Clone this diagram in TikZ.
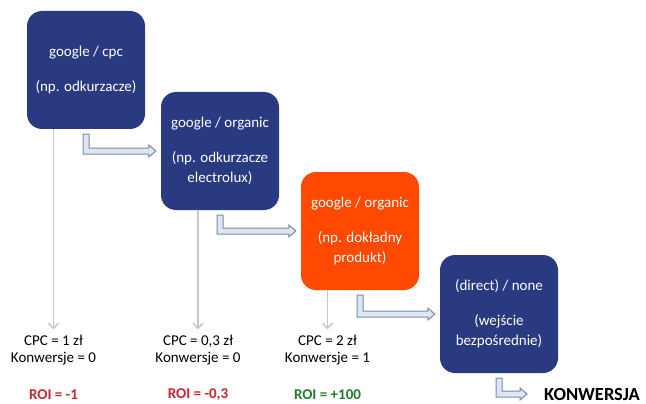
\documentclass[tikz,border=0pt]{standalone}
\usepackage{fontspec}
\setmainfont{Carlito}
\usetikzlibrary{calc,arrows.meta}

\begin{document}
\begin{tikzpicture}[x=1pt,y=-1pt,
    blockbox/.style={minimum width=118pt,minimum height=118pt,rounded corners=15pt,
      fill=kBlue,text=white,inner sep=0pt,align=center,
      font=\fontsize{15}{20}\selectfont},
    metric/.style={align=center,inner sep=2pt,font=\fontsize{15}{17}\selectfont},
    roi/.style={inner sep=2pt,font=\fontsize{15}{17}\selectfont\bfseries},
    dropline/.style={color=kGrey,line width=1.5pt,-{Straight Barb[length=5pt,width=10pt]}},
    bentarrow/.style={draw=kEdge,fill=kPale,line width=1pt,line join=miter}]
  \definecolor{kBlue}{RGB}{42,58,128}
  \definecolor{kOrange}{RGB}{255,72,0}
  \definecolor{kGrey}{RGB}{200,200,200}
  \definecolor{kPale}{RGB}{221,231,243}
  \definecolor{kEdge}{RGB}{125,138,162}
  \definecolor{kRed}{RGB}{200,38,48}
  \definecolor{kGreen}{RGB}{40,122,44}

  \useasboundingbox (0,0) rectangle (646,404);

  % source boxes
  \node[blockbox] (b1) at (86,70) {google / cpc\\[15pt](np. odkurzacze)};
  \node[blockbox] (b2) at (220,151) {google / organic\\[15pt](np. odkurzacze\\electrolux)};
  \node[blockbox,fill=kOrange] (b3) at (360,231) {google / organic\\[15pt](np. dokładny\\produkt)};
  \node[blockbox] (b4) at (499,314) {(direct) / none\\[15pt](wejście\\bezpośrednie)};
  \node[anchor=west,inner sep=0pt,font=\fontsize{18.5}{21}\selectfont\bfseries] (konw) at (544,394) {KONWERSJA};

  % costs
  \node[metric] (m1) at (53.5,350.5) {CPC = 1 zł\\Konwersje = 0};
  \node[metric] (m2) at (198,350.5) {CPC = 0,3 zł\\Konwersje = 0};
  \node[metric] (m3) at (327.5,350.5) {CPC = 2 zł\\Konwersje = 1};
  \node[roi,text=kRed] (r1) at (53.5,395) {ROI = -1};
  \node[roi,text=kRed] (r2) at (198,395) {ROI = -0,3};
  \node[roi,text=kGreen] (r3) at (327.5,395) {ROI = +100};

  \foreach \b/\m in {b1/m1,b2/m2,b3/m3}
    \draw[dropline] (\b.south -| \m.north) -- ([yshift=4pt]\m.north);

  % path arrows
  \foreach \from/\to/\gap in {b1/b2/5pt,b2/b3/5pt,b3/b4/5pt,b4/konw/17pt}
    \draw[bentarrow] let \p1=([yshift=-5pt]\from.south), \p2=([xshift=-\gap]\to.west) in
      (\x1-3pt,\y1) -- (\x1-3pt,\y2-3pt) -- (\x2-7pt,\y2-3pt) -- (\x2-7pt,\y2-6pt)
      -- (\p2) -- (\x2-7pt,\y2+6pt) -- (\x2-7pt,\y2+3pt) -- (\x1+3pt,\y2+3pt)
      -- (\x1+3pt,\y1) -- cycle;
\end{tikzpicture}
\end{document}
